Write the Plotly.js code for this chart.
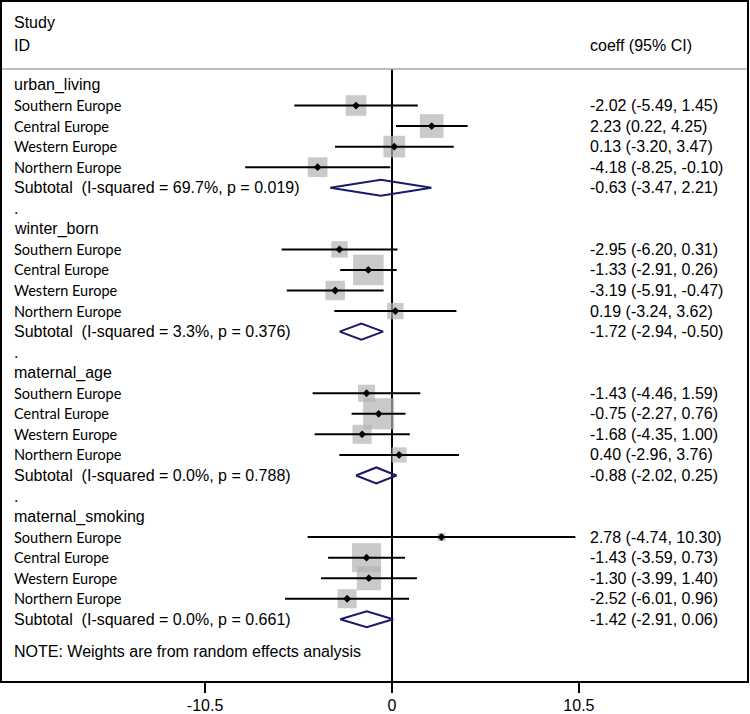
<!DOCTYPE html>
<html>
<head>
<meta charset="utf-8">
<script src="https://cdn.plot.ly/plotly-3.0.1.min.js"></script>
<style>html,body{margin:0;padding:0;background:#fff;}#chart{width:750px;height:714px;}</style>
</head>
<body>
<div id="chart"></div>
<script>
// ---- data ----
const groups = ['urban_living', 'winter_born', 'maternal_age', 'maternal_smoking'];
const regions = ['Southern Europe', 'Central Europe', 'Western Europe', 'Northern Europe'];

const est_urban = [-2.02, 2.23, 0.13, -4.18];
const lo_urban  = [-5.49, 0.22, -3.20, -8.25];
const hi_urban  = [1.45, 4.25, 3.47, -0.10];
const w_urban   = [23.0, 30.5, 25.5, 21.0];

const est_winter = [-2.95, -1.33, -3.19, 0.19];
const lo_winter  = [-6.20, -2.91, -5.91, -3.24];
const hi_winter  = [0.31, 0.26, -0.47, 3.62];
const w_winter   = [14.5, 50.5, 20.5, 14.5];

const est_age = [-1.43, -0.75, -1.68, 0.40];
const lo_age  = [-4.46, -2.27, -4.35, -2.96];
const hi_age  = [1.59, 0.76, 1.00, 3.76];
const w_age   = [15.7, 52.3, 19.7, 12.3];

const est_smoke = [2.78, -1.43, -1.30, -2.52];
const lo_smoke  = [-4.74, -3.59, -3.99, -6.01];
const hi_smoke  = [10.30, 0.73, 1.40, 0.96];
const w_smoke   = [3.5, 45.6, 31.3, 19.6];

const sub_est = [-0.63, -1.72, -0.88, -1.42];
const sub_lo  = [-3.47, -2.94, -2.02, -2.91];
const sub_hi  = [2.21, -0.50, 0.25, 0.06];
const sub_i2  = [69.7, 3.3, 0.0, 0.0];
const sub_p   = [0.019, 0.376, 0.788, 0.661];

const tickVals = [-10.5, 0, 10.5];
const tickText = ['-10.5', '0', '10.5'];

const noteText = 'NOTE: Weights are from random effects analysis';

// ---- layout geometry ----
const W = 750, H = 714;
const mL = 2, mR = 3, mT = 2, mB = 33;
const plotW = W - mL - mR, plotH = H - mT - mB;
const xZeroPx = 392, pxPerUnit = 17.8;
const xRange = [(mL - xZeroPx) / pxPerUnit, (mL + plotW - xZeroPx) / pxPerUnit];
const row0Px = 85, rowPx = 20.55;
const pxToRow = py => (py - row0Px) / rowPx;
const yRange = [pxToRow(mT + plotH), pxToRow(mT)];
const pxToPaperX = px => (px - mL) / plotW;

const est = [est_urban, est_winter, est_age, est_smoke];
const lo = [lo_urban, lo_winter, lo_age, lo_smoke];
const hi = [hi_urban, hi_winter, hi_age, hi_smoke];
const wts = [w_urban, w_winter, w_age, w_smoke];

const fmt = (e, l, h) => `${e.toFixed(2)} (${l.toFixed(2)}, ${h.toFixed(2)})`;

const boxX = [], boxY = [], boxS = [];
const ciX = [], ciY = [];
const ptX = [], ptY = [];
const diaX = [], diaY = [];
const annotations = [];
const arial = {family: 'Liberation Sans, Arial, sans-serif', size: 16, color: '#000'};
const calib = {family: 'Lato, sans-serif', size: 14.5, color: '#000'};
const leftX = pxToPaperX(12);
const rightX = pxToPaperX(588);
const dHalf = 8 / rowPx;

function addText(text, xp, row, font) {
  annotations.push({text: text, x: xp, xref: 'paper', y: row, yref: 'y',
    xanchor: 'left', yanchor: 'middle', showarrow: false, font: font});
}

groups.forEach((g, gi) => {
  const base = gi * 7;
  addText(g, leftX, base, arial);
  regions.forEach((r, ri) => {
    const row = base + 1 + ri;
    const e = est[gi][ri], l = lo[gi][ri], h = hi[gi][ri];
    addText(r, leftX, row, calib);
    addText(fmt(e, l, h), rightX, row, arial);
    boxX.push(e); boxY.push(row); boxS.push(4.3 * Math.sqrt(wts[gi][ri]));
    ciX.push(l, h, null); ciY.push(row, row, null);
    ptX.push(e); ptY.push(row);
  });
  const srow = base + 5;
  addText(`Subtotal\u00a0\u00a0(I-squared = ${sub_i2[gi].toFixed(1)}%, p = ${sub_p[gi].toFixed(3)})`, leftX, srow, arial);
  addText(fmt(sub_est[gi], sub_lo[gi], sub_hi[gi]), rightX, srow, arial);
  diaX.push(sub_lo[gi], sub_est[gi], sub_hi[gi], sub_est[gi], sub_lo[gi], null);
  diaY.push(srow, srow - dHalf, srow, srow + dHalf, srow, null);
  if (gi < groups.length - 1) addText('.', leftX, base + 6, arial);
});

addText('Study', leftX, pxToRow(22), arial);
addText('ID', leftX, pxToRow(45), arial);
addText('coeff (95% CI)', rightX, pxToRow(45), arial);
addText(noteText, leftX, pxToRow(651), arial);

const traces = [
  {x: boxX, y: boxY, mode: 'markers', type: 'scatter', hoverinfo: 'skip',
   marker: {symbol: 'square', size: boxS, color: 'rgb(180,180,180)', line: {width: 0}}},
  {x: ciX, y: ciY, mode: 'lines', type: 'scatter', hoverinfo: 'skip',
   line: {color: '#000', width: 2}},
  {x: ptX, y: ptY, mode: 'markers', type: 'scatter', hoverinfo: 'skip',
   marker: {symbol: 'diamond', size: 6, color: '#000', line: {width: 0}}},
  {x: diaX, y: diaY, mode: 'lines', type: 'scatter', hoverinfo: 'skip',
   line: {color: '#1a1a6b', width: 2}}
];

const layout = {
  width: W, height: H,
  margin: {l: mL, r: mR, t: mT, b: mB, pad: 0},
  paper_bgcolor: '#fff', plot_bgcolor: '#fff',
  showlegend: false,
  xaxis: {range: xRange, showgrid: false, zeroline: false,
    showline: true, mirror: true, linecolor: '#000', linewidth: 2,
    ticks: 'outside', ticklen: 10, tickwidth: 2, tickcolor: '#000',
    ticklabelstandoff: -1,
    tickvals: tickVals, ticktext: tickText,
    tickfont: {family: 'Liberation Sans, Arial, sans-serif', size: 16, color: '#000'}},
  yaxis: {range: yRange, showgrid: false, zeroline: false,
    showline: true, mirror: true, linecolor: '#000', linewidth: 2,
    showticklabels: false, ticks: ''},
  shapes: [
    {type: 'line', xref: 'paper', x0: 0, x1: 1, yref: 'y', y0: pxToRow(69), y1: pxToRow(69),
     line: {color: '#a8a8a8', width: 1.5}},
    {type: 'line', xref: 'x', x0: 0, x1: 0, yref: 'y', y0: pxToRow(69), y1: yRange[0],
     line: {color: '#000', width: 2}, layer: 'below'}
  ],
  annotations: annotations
};

Plotly.newPlot('chart', traces, layout, {staticPlot: true, displayModeBar: false});
</script>
</body>
</html>
